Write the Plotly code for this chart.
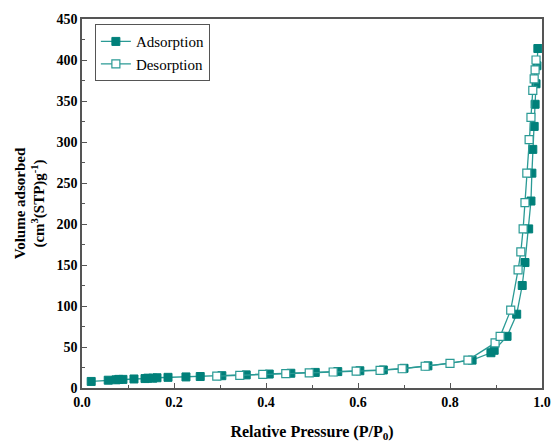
import plotly.graph_objects as go

ads_x = [0.02, 0.057, 0.074, 0.08, 0.089, 0.113, 0.137, 0.143, 0.154, 0.163, 0.187, 0.226,
         0.257, 0.304, 0.357, 0.407, 0.454, 0.507, 0.556, 0.604, 0.655, 0.70, 0.752, 0.848,
         0.889, 0.896, 0.924, 0.945, 0.957, 0.963, 0.971, 0.976, 0.978, 0.98, 0.983, 0.985,
         0.987, 0.989, 0.991]
ads_y = [8, 9.5, 10, 10.5, 10.5, 11, 11.5, 12, 12, 12.5, 13, 13.5,
         14, 15, 16, 17, 18, 19, 20, 21, 22, 24, 27, 34,
         43, 46, 63, 90, 125, 153, 194, 228, 262, 291, 319, 346,
         371, 393, 414]

des_x = [0.293, 0.343, 0.393, 0.443, 0.494, 0.546, 0.596, 0.648, 0.696, 0.746, 0.80, 0.839,
         0.898, 0.909, 0.932, 0.948, 0.954, 0.959, 0.963, 0.967, 0.972, 0.976, 0.98, 0.983,
         0.985, 0.987]
des_y = [14.5, 15.5, 16.5, 17.5, 18.5, 19.5, 20.5, 21.5, 23.5, 26.5, 30, 34,
         55, 63, 95, 144, 166, 194, 226, 262, 303, 330, 363, 377,
         388, 400]

line_c = "#2a9a95"
mark_c = "#00807a"
font_f = "Liberation Serif, Times New Roman, serif"

fig = go.Figure()
fig.add_trace(go.Scatter(
    x=ads_x, y=ads_y, mode="lines+markers", name="Adsorption",
    line=dict(color=line_c, width=1.3),
    marker=dict(symbol="square", size=8, color=mark_c, line=dict(color=mark_c, width=1))))
fig.add_trace(go.Scatter(
    x=des_x, y=des_y, mode="lines+markers", name="Desorption",
    line=dict(color=line_c, width=1.3),
    marker=dict(symbol="square", size=8, color="white", line=dict(color=line_c, width=1.2))))

axis_common = dict(
    showline=True, linecolor="#555555", linewidth=1.5, mirror=True,
    ticks="inside", ticklen=5, tickwidth=1, tickcolor="#555555",
    showgrid=False, zeroline=False, automargin=False,
    tickfont=dict(family=font_f, size=14, color="black", weight="bold"),
)

fig.update_layout(
    width=552, height=442,
    margin=dict(l=82, r=10, t=19, b=54, autoexpand=False),
    paper_bgcolor="white", plot_bgcolor="white",
    font=dict(family=font_f, color="black"),
    showlegend=True,
    legend=dict(x=0.028, y=0.986, xanchor="left", yanchor="top",
                bordercolor="#555555", borderwidth=1, bgcolor="white",
                font=dict(family=font_f, size=15, color="black"),
                tracegroupgap=0, itemwidth=30),
    xaxis=dict(range=[0, 1.0], dtick=0.2, tickformat=".1f",
               minor=dict(dtick=0.1, ticks="inside", ticklen=3, tickcolor="#555555"),
               title=dict(text="Relative Pressure (P/P<sub>0</sub>)",
                          font=dict(family=font_f, size=16, color="black", weight="bold"),
                          standoff=18),
               **axis_common),
    yaxis=dict(range=[0, 450], dtick=50,
               minor=dict(dtick=25, ticks="inside", ticklen=3, tickcolor="#555555"),
               title=dict(text="Volume adsorbed<br>(cm<sup>3</sup>(STP)g<sup>-1</sup>)",
                          font=dict(family=font_f, size=15, color="black", weight="bold"),
                          standoff=8),
               **axis_common),
)

fig.write_html("out.html")
